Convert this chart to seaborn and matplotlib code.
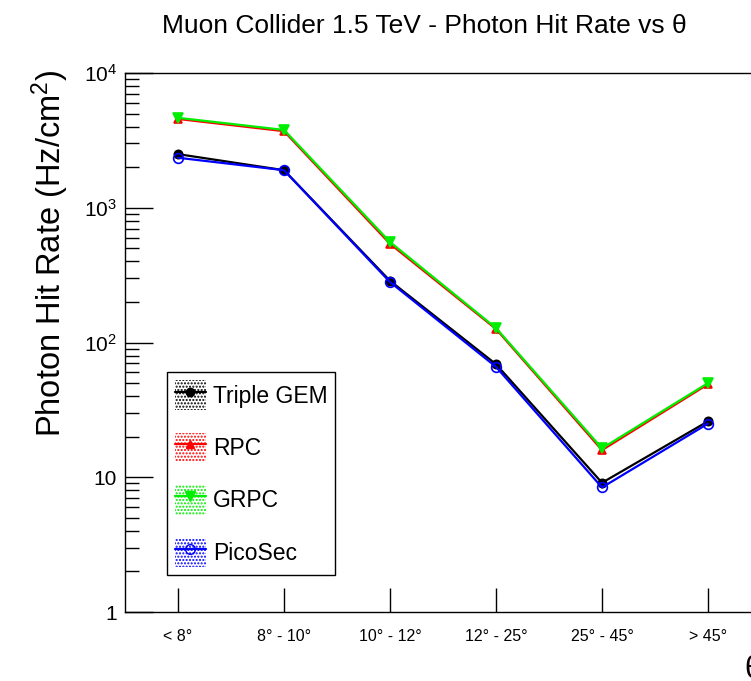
import numpy as np
import pandas as pd
import seaborn as sns
import matplotlib
matplotlib.use("Agg")
import matplotlib.pyplot as plt
from matplotlib.lines import Line2D
from matplotlib.patches import Patch
from matplotlib.legend_handler import HandlerTuple
from matplotlib.ticker import LogLocator, NullFormatter, FixedLocator

# Angular bins
theta_bins = ["< 8°", "8° - 10°", "10° - 12°", "12° - 25°", "25° - 45°", "> 45°"]

# Photon hit rates (Hz/cm^2) per detector technology
triple_gem = [2500, 1900, 287, 69, 9.1, 26]
rpc = [4560, 3700, 540, 126, 15.9, 49]
grpc = [4650, 3780, 557, 128, 16.4, 50]
picosec = [2350, 1900, 281, 66, 8.4, 25]

series_names = ["Triple GEM", "RPC", "GRPC", "PicoSec"]
series_values = [triple_gem, rpc, grpc, picosec]

styles = {
    "Triple GEM": dict(color="black", marker="o", mfc="black", ms=6),
    "RPC": dict(color="red", marker="^", mfc="red", ms=6),
    "GRPC": dict(color="#00ee00", marker="v", mfc="#00ee00", ms=7),
    "PicoSec": dict(color="blue", marker="o", mfc="none", ms=7),
}

frames = []
for name, vals in zip(series_names, series_values):
    frames.append(pd.DataFrame({"pos": np.arange(len(theta_bins)), "rate": vals, "detector": name}))
df = pd.concat(frames, ignore_index=True)

sns.set_theme(style="white")
plt.rcParams["font.family"] = ["Liberation Sans", "DejaVu Sans"]
plt.rcParams["mathtext.fontset"] = "custom"
plt.rcParams["mathtext.rm"] = "Liberation Sans"
plt.rcParams["mathtext.it"] = "Liberation Sans"
for key in ["text.color", "axes.labelcolor", "xtick.color", "ytick.color", "axes.edgecolor"]:
    plt.rcParams[key] = "black"
plt.rcParams["hatch.linewidth"] = 1.0

fig = plt.figure(figsize=(7.51, 6.81), dpi=100)
ax = fig.add_axes([125 / 751, 69 / 681, 636 / 751, 539 / 681])

for name in series_names:
    st = styles[name]
    sub = df[df["detector"] == name]
    sns.lineplot(data=sub, x="pos", y="rate", ax=ax, color=st["color"], lw=1.6,
                 marker=st["marker"], markersize=st["ms"], markerfacecolor=st["mfc"],
                 markeredgecolor=st["color"], markeredgewidth=1.2, legend=False)

ax.set_yscale("log")
ax.set_ylim(1, 1e4)
ax.set_xlim(-0.5, 5.5)

ax.xaxis.set_major_locator(FixedLocator(np.arange(len(theta_bins))))
ax.set_xticklabels(theta_bins, fontsize=11.5)
ax.yaxis.set_minor_locator(LogLocator(base=10, subs=np.arange(2, 10), numticks=20))
ax.yaxis.set_minor_formatter(NullFormatter())
ax.set_yticks([1, 10, 100, 1000, 10000])
ax.set_yticklabels(["1", "10", "$10^{2}$", "$10^{3}$", "$10^{4}$"], fontsize=15)

ax.tick_params(axis="x", which="major", direction="in", length=17, width=1, pad=12, bottom=True)
ax.tick_params(axis="y", which="major", direction="in", length=20, width=1, pad=6, left=True)
ax.tick_params(axis="y", which="minor", direction="in", length=10, width=1, left=True)
ax.set_xlabel("")
ax.set_ylabel("")
for sp in ax.spines.values():
    sp.set_color("black")
    sp.set_linewidth(1)

# Legend with hatched error-band swatches behind each line+marker
handles = []
for name in series_names:
    st = styles[name]
    band = Patch(facecolor="none", edgecolor=st["color"], hatch=".....", linewidth=0)
    line = Line2D([], [], color=st["color"], lw=1.6, marker=st["marker"], markersize=st["ms"],
                  markerfacecolor=st["mfc"], markeredgecolor=st["color"])
    handles.append((band, line))
leg = ax.legend(handles, series_names, handler_map={tuple: HandlerTuple(ndivide=1, pad=0)},
                loc="lower left", bbox_to_anchor=(42 / 636, 37 / 539), fontsize=16.5,
                frameon=True, fancybox=False, edgecolor="black", framealpha=1,
                handlelength=1.35, handleheight=1.6, labelspacing=1.0, handletextpad=0.3,
                borderpad=0.35, borderaxespad=0)
leg.get_frame().set_linewidth(1)
for t in leg.get_texts():
    t.set_color("black")

fig.text(424 / 751, 1 - 26 / 681, "Muon Collider 1.5 TeV - Photon Hit Rate vs θ",
         ha="center", va="center", fontsize=19)
fig.text(50 / 751, 1 - 70 / 681, "Photon Hit Rate (Hz/cm$^{2}$)", rotation=90,
         ha="center", va="top", fontsize=23.5)
fig.text(744 / 751, 1 - 670 / 681, "θ", ha="left", va="center", fontsize=22)

fig.savefig("out.png", dpi=100)
